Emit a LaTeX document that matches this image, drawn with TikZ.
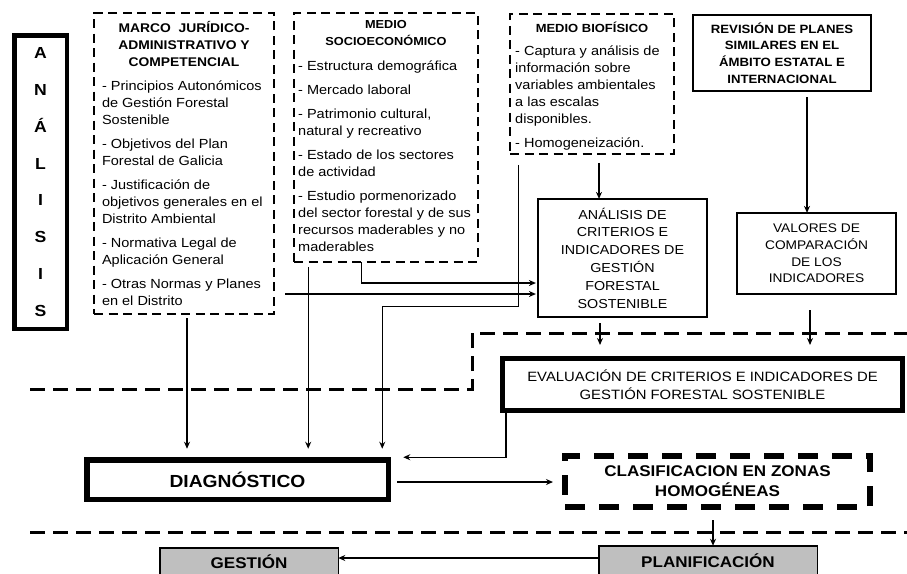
\documentclass[tikz,border=0pt]{standalone}
\usepackage{fontspec}
\setmainfont{Liberation Sans}[FakeStretch=1.1]
\usetikzlibrary{arrows.meta,calc}
\newcommand\fs[2]{\fontsize{#1}{#2}\selectfont}
\newcommand\myitem[1]{#1\par\vspace{7pt}}
\begin{document}
\begin{tikzpicture}[x=1pt,y=-1pt,
  every node/.style={inner sep=0pt,outer sep=0pt},
  lbox/.style={draw,line width=2.4pt,dash pattern=on 9pt off 5.5pt,rectangle},
  sbox/.style={draw,line width=1.8pt,rectangle,align=center},
  tbox/.style={draw,line width=5pt,rectangle,align=center},
  gbox/.style={draw,line width=1.5pt,fill=gray!50,rectangle,align=center},
  cbox/.style={draw,line width=6pt,dash pattern=on 20pt off 14pt,rectangle,align=center},
  divider/.style={line width=3pt,dash pattern=on 15pt off 8pt},
  conn/.style={line width=1.2pt,-{Stealth[length=7pt,width=6pt]}}]
\useasboundingbox (0,0) rectangle (907,573);
\fill[white] (0,0) rectangle (907,573);
\clip (0,0) rectangle (907,573);

% dividers
\draw[divider] (30,389) -- (472,389) -- (472,333) -- (907,333);
\draw[divider] (30,532) -- (907,532);

% ANALISIS vertical box
\node[draw,line width=4.5pt,minimum width=52.5pt,minimum height=293.5pt,align=center,
  font=\bfseries\fs{16}{36.8}] (analisis) at (40.5,182) {A\\N\\Á\\L\\I\\S\\I\\S};

% Marco
\node[lbox,minimum width=180pt,minimum height=301pt] (marco) at (184,163.5) {%
\parbox[c][301pt][t]{180pt}{%
{\centering\bfseries\fs{12.6}{17}\rule{0pt}{19pt}MARCO\ \ JURÍDICO-\\ADMINISTRATIVO Y\\COMPETENCIAL\par}\vspace{7pt}%
{\leftskip=8pt\rightskip=0pt plus 1fil\fs{13.2}{17}%
\myitem{- Principios Autonómicos\\de Gestión Forestal\\Sostenible}
\myitem{- Objetivos del Plan\\Forestal de Galicia}
\myitem{- Justificación de\\objetivos generales en el\\Distrito Ambiental}
\myitem{- Normativa Legal de\\Aplicación General}
- Otras Normas y Planes\\en el Distrito\par}}};

% Socio
\node[lbox,minimum width=183.6pt,minimum height=248.6pt] (socio) at (386,137.5) {%
\parbox[c][248.6pt][t]{183.6pt}{%
{\centering\bfseries\fs{11.6}{17}\rule{0pt}{15.5pt}MEDIO\\SOCIOECONÓMICO\par}\vspace{7.5pt}%
{\leftskip=4pt\rightskip=0pt plus 1fil\fs{13.2}{17}%
\myitem{- Estructura demográfica}
\myitem{- Mercado laboral}
\myitem{- Patrimonio cultural,\\natural y recreativo}
\myitem{- Estado de los sectores\\de actividad}
- Estudio pormenorizado\\del sector forestal y de sus\\recursos maderables y no\\maderables\par}}};

% Biofisico
\node[lbox,minimum width=163.6pt,minimum height=139.6pt] (bio) at (592,84) {%
\parbox[c][139.6pt][t]{163.6pt}{%
{\centering\bfseries\fs{11.8}{17}\rule{0pt}{18pt}MEDIO BIOFÍSICO\par}\vspace{6pt}%
{\leftskip=5pt\rightskip=0pt plus 1fil\fs{13.2}{17}%
\myitem{- Captura y análisis de\\información sobre\\variables ambientales\\a las escalas\\disponibles.}
- Homogeneización.\par}}};

% Revision
\node[sbox,minimum width=178.2pt,minimum height=76.2pt,font=\bfseries\fs{12}{16.7}] (revision) at (782,53)
  {REVISIÓN DE PLANES\\SIMILARES EN EL\\ÁMBITO ESTATAL E\\INTERNACIONAL};

% Analisis de criterios
\node[sbox,minimum width=169.2pt,minimum height=118.2pt,font=\fs{13}{17.8}] (analisis2) at (622.5,258)
  {ANÁLISIS DE\\CRITERIOS E\\INDICADORES DE\\GESTIÓN\\FORESTAL\\SOSTENIBLE};

% Valores
\node[sbox,minimum width=159.2pt,minimum height=81.2pt,font=\fs{12.5}{16.7}] (valores) at (816.5,253.5)
  {VALORES DE\\COMPARACIÓN\\DE LOS\\INDICADORES};

% Evaluacion
\node[tbox,minimum width=400pt,minimum height=52pt,font=\fs{13.5}{18}] (evaluacion) at (702.5,384.5)
  {EVALUACIÓN DE CRITERIOS E INDICADORES DE\\GESTIÓN FORESTAL SOSTENIBLE};

% Diagnostico
\node[draw,line width=5.5pt,minimum width=301.5pt,minimum height=39.5pt,font=\bfseries\fs{17.5}{20}] (diag) at (237.5,479.5)
  {DIAGNÓSTICO};

% Clasificacion
\node[cbox,minimum width=305pt,minimum height=51pt,font=\bfseries\fs{15.5}{20}] (clasif) at (717.5,481.5)
  {CLASIFICACION EN ZONAS\\HOMOGÉNEAS};

% Gestion / Planificacion
\node[gbox,minimum width=178.5pt,minimum height=27pt,font=\bfseries\fs{15.5}{18}] (gestion) at (249,561.25) {GESTIÓN};
\node[gbox,minimum width=218.5pt,minimum height=29pt,font=\bfseries\fs{15.5}{18}] (planif) at (708,560.25) {PLANIFICACIÓN};

% free ends
\coordinate (e1) at ($(evaluacion.north)+(-102.5,-13.5)$);
\coordinate (e2) at ($(evaluacion.north)+(107.5,-13.5)$);

% connectors
\draw[conn] ($(bio.south)+(7,9)$) coordinate (b1) -- (b1 |- analisis2.north);
\draw[conn] ($(revision.south)+(25,6)$) coordinate (r1) -- (r1 |- valores.north);
\draw[conn] ($(analisis2.south)+(-22.5,6)$) -- (e1);
\draw[conn] ($(valores.south)+(-6.5,16)$) -- (e2);
\draw[conn] ($(evaluacion.south west)+(3.5,2.5)$) |- ($(diag.north east)+(15,-2.5)$);
\draw[conn] ($(diag.east)+(9,2.5)$) -- ($(clasif.west)+(-12,0.5)$);
\draw[conn] ($(clasif.south)+(-4.5,13)$) coordinate (c1) -- (c1 |- planif.north);
\draw[conn] ($(planif.west)+(0,-2.25)$) coordinate (p1) -- (p1 -| gestion.east);
\draw[conn] ($(marco.south)+(3,4)$) coordinate (m1) -- ($(m1 |- diag.north)+(0,-11)$);
\draw[conn] ($(socio.south west)+(14,5)$) coordinate (s1) -- ($(s1 |- diag.north)+(0,-11)$);
\draw[conn] ($(socio.south west)+(67,0)$) |- ($(analisis2.west)+(-2,25)$);
\draw[conn] ($(marco.east)+(11,130.5)$) -- ($(analisis2.west)+(-2,36)$);
\draw[conn] ($(bio.south west)+(8,11)$) -- ++(0,142) -| ($(diag.north east)+(-6,-11)$);
\end{tikzpicture}
\end{document}
